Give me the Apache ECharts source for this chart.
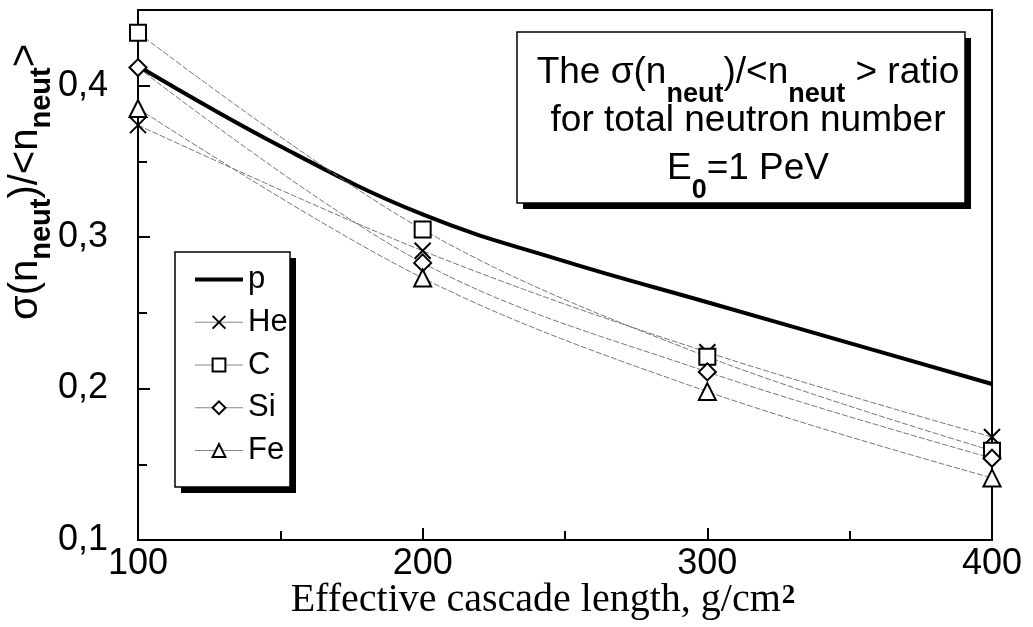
<!DOCTYPE html>
<html>
<head>
<meta charset="utf-8">
<script src="https://cdn.jsdelivr.net/npm/echarts@6/dist/echarts.min.js"></script>
<style>html,body{margin:0;padding:0;background:#fff}#c{width:1033px;height:627px}</style>
</head>
<body>
<div id="c"></div>
<script>
// ---- data ----
const xTicks = [100, 200, 300, 400];
const pX = [100, 150, 200, 250, 300, 350, 400];
const pVals = [0.413, 0.360, 0.315, 0.284, 0.257, 0.230, 0.203];
const nucX = [100, 200, 300, 400];
const heVals = [0.374, 0.291, 0.224, 0.168];
const cVals  = [0.435, 0.305, 0.221, 0.159];
const siVals = [0.412, 0.283, 0.211, 0.154];
const feVals = [0.385, 0.273, 0.198, 0.141];
const seriesNames = ['p', 'He', 'C', 'Si', 'Fe'];

const SANS = "'Liberation Sans', Arial, sans-serif";
const SERIF = "'Liberation Serif', 'Times New Roman', serif";
const pair = (xs, ys) => xs.map((x, i) => [x, ys[i]]);

const markerStyle = {color: '#fff', borderColor: '#000', borderWidth: 2};
const thinLine = {color: '#777', width: 1, type: [6, 2]};
function nucSeries(name, vals, symbol, size) {
  return {
    name, type: 'line', data: pair(nucX, vals), smooth: 0.35,
    symbol, symbolSize: size, showAllSymbol: true,
    lineStyle: thinLine, itemStyle: markerStyle, z: 3
  };
}

const legendData = seriesNames.map(n => n === 'p'
  ? {name: n, lineStyle: {width: 4, color: '#000', type: 'solid'}}
  : {name: n, lineStyle: {width: 1, color: '#888', type: 'solid'}});

const chart = echarts.init(document.getElementById('c'), null, {renderer: 'canvas'});
chart.setOption({
  animation: false,
  backgroundColor: '#fff',
  grid: {left: 138, right: 41, top: 10, bottom: 87, show: true, borderColor: '#000', borderWidth: 2, backgroundColor: 'transparent'},
  xAxis: {
    type: 'value', min: 100, max: 400, interval: 100,
    axisLine: {lineStyle: {color: '#000', width: 2}},
    axisTick: {inside: true, length: 12, lineStyle: {color: '#000', width: 2}},
    minorTick: {show: true, splitNumber: 2, length: 9, lineStyle: {color: '#000', width: 2}},
    splitLine: {show: false},
    axisLabel: {color: '#000', fontSize: 36, fontFamily: SANS, margin: 6,
      formatter: v => xTicks.includes(v) ? String(v) : ''}
  },
  yAxis: {
    type: 'value', min: 0.1, max: 0.45, interval: 0.1,
    axisLine: {lineStyle: {color: '#000', width: 2}},
    axisTick: {inside: true, length: 12, lineStyle: {color: '#000', width: 2}},
    minorTick: {show: true, splitNumber: 2, length: 9, lineStyle: {color: '#000', width: 2}},
    splitLine: {show: false},
    axisLabel: {color: '#000', fontSize: 36, fontFamily: SANS, margin: 30, showMaxLabel: false,
      formatter: v => v.toFixed(1).replace('.', ',')}
  },
  legend: {
    data: legendData, orient: 'vertical', left: 193, top: 264, padding: 0,
    itemWidth: 48, itemHeight: 16, itemGap: 11.75,
    textStyle: {color: '#000', fontSize: 31, fontFamily: SANS, lineHeight: 30},
    z: 10
  },
  series: [
    {name: 'p', type: 'line', data: pair(pX, pVals), smooth: 0.4, symbol: 'circle', showSymbol: false,
      lineStyle: {color: '#000', width: 4}, itemStyle: {color: 'rgba(0,0,0,0)', borderWidth: 0}, z: 2},
    nucSeries('He', heVals, 'path://M0,0L10,10M10,0L0,10', 16),
    nucSeries('C', cVals, 'rect', 16),
    nucSeries('Si', siVals, 'diamond', 17),
    nucSeries('Fe', feVals, 'triangle', 17)
  ],
  graphic: [
    // legend frame
    {type: 'rect', shape: {x: 181, y: 258, width: 115, height: 235}, style: {fill: '#000'}, z: 5, silent: true},
    {type: 'rect', shape: {x: 175, y: 252, width: 115, height: 235}, style: {fill: '#fff', stroke: '#000', lineWidth: 1.5}, z: 6, silent: true},
    // annotation box
    {type: 'rect', shape: {x: 523, y: 38, width: 448, height: 171}, style: {fill: '#000'}, z: 5, silent: true},
    {type: 'rect', shape: {x: 517, y: 32, width: 448, height: 171}, style: {fill: '#fff', stroke: '#000', lineWidth: 1.5}, z: 6, silent: true},
    {type: 'text', x: 748, y: 126, z: 7, silent: true,
      style: {
        text: '{m|The σ(n}{s|neut}{m|)/<n}{s|neut}{m| > ratio}\n{m|for total neutron number}\n{m|E}{s|0}{m|=1 PeV}',
        align: 'center', verticalAlign: 'middle', fill: '#000',
        rich: {
          m: {fontSize: 37, fontFamily: SANS, lineHeight: 48, verticalAlign: 'top', fill: '#000'},
          s: {fontSize: 27, fontFamily: SANS, fontWeight: 'bold', lineHeight: 20, padding: [27, 0, 0, 0], verticalAlign: 'top', fill: '#000'}
        }
      }},
    // y axis title
    {type: 'text', x: 27, y: 182, rotation: Math.PI / 2, z: 7, silent: true,
      style: {
        text: '{m|σ(n}{s|neut}{m|)/<n}{s|neut}{m|>}',
        align: 'center', verticalAlign: 'middle', fill: '#000',
        rich: {
          m: {fontSize: 40, fontFamily: SANS, lineHeight: 42, verticalAlign: 'top', fill: '#000'},
          s: {fontSize: 29, fontFamily: SANS, fontWeight: 'bold', lineHeight: 22, padding: [21, 0, 0, 0], verticalAlign: 'top', fill: '#000'}
        }
      }},
    // x axis title
    {type: 'text', x: 543, y: 602, z: 7, silent: true,
      style: {
        text: '{m|Effective cascade length, g/cm}{u|2}',
        align: 'center', verticalAlign: 'middle', fill: '#000',
        rich: {
          m: {fontSize: 40, fontFamily: SERIF, lineHeight: 44, verticalAlign: 'top', fill: '#000'},
          u: {fontSize: 27, fontFamily: SERIF, fontWeight: 'bold', lineHeight: 26, padding: [3, 0, 0, 1], verticalAlign: 'top', fill: '#000'}
        }
      }}
  ]
});
</script>
</body>
</html>
